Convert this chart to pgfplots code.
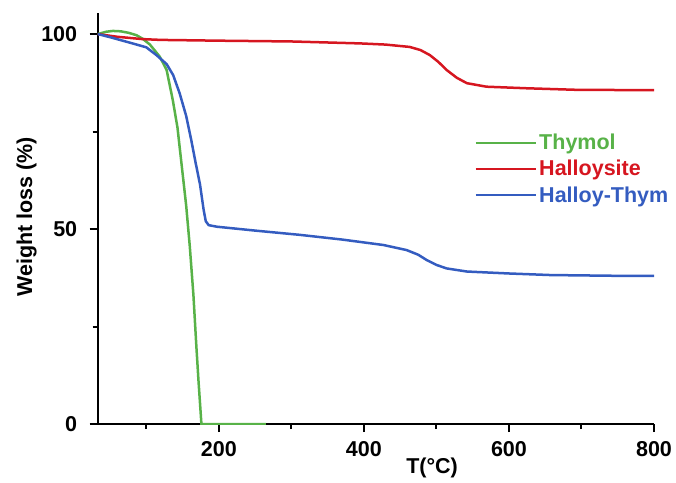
\documentclass[border=0pt]{standalone}
\usepackage{fontspec}
\setmainfont{Liberation Sans}
\usepackage{pgfplots}
\pgfplotsset{compat=1.18}
\definecolor{cgreen}{RGB}{88,178,72}
\definecolor{cred}{RGB}{214,22,32}
\definecolor{cblue}{RGB}{52,92,192}
\begin{document}
\begin{tikzpicture}
\useasboundingbox (-97.7pt,-58pt) rectangle (578.3pt,424pt);
\begin{axis}[
  anchor=south west, at={(0,0)},
  scale only axis,
  width=556.3pt, height=411pt,
  xmin=33, xmax=800, ymin=0, ymax=105.4,
  axis x line=bottom, axis y line=left,
  axis line style={-, line width=2.2pt, black},
  xtick={200,400,600,800}, ytick={0,50,100},
  minor xtick={100,300,500,700}, minor ytick={25,75},
  tick align=outside,
  major tick length=8pt, minor tick length=5pt,
  every tick/.style={black, line width=2pt},
  /pgf/number format/assume math mode=true,
  ticklabel style={font=\bfseries\fontsize{21.5}{24}\selectfont},
  xticklabel style={yshift=-6pt},
  yticklabel style={xshift=-9pt},
  xlabel={T(°C)}, ylabel={Weight loss (\%)},
  label style={font=\bfseries\fontsize{21.5}{24}\selectfont},
  xlabel style={at={(axis description cs:0.601,0)}, anchor=center, yshift=-44pt},
  ylabel style={at={(axis description cs:0,0.504)}, anchor=center, yshift=71pt},
  legend style={draw=none, fill=none, at={(axis description cs:0.672,0.715)}, anchor=north west,
    font=\bfseries\fontsize{21.5}{24}\selectfont, row sep=5pt,
    nodes={inner sep=2pt}},
  legend cell align=left,
  legend image code/.code={\draw[#1, line width=2.5pt] (0pt,0pt) -- (50pt,0pt); \path (0pt,0pt) -- (60pt,0pt);},
  every axis plot/.append style={line width=2.5pt, mark=none},
]
\addplot[cgreen] coordinates {
(33,100)(45,100.6)(54,100.8)(65,100.7)(76,100.3)(86.5,99.7)(95,98.8)(105,97.3)(118.6,94.2)(128,90.8)(136.6,83)(143,76)(149,66)(155,56)(160,45.5)(165,33)(169,20)(172,11)(176,0)(200,0)(265,0)};
\addlegendentry{\textcolor{cgreen}{Thymol}}
\addplot[cred] coordinates {
(33,100)(60,99.3)(95,98.7)(120,98.5)(200,98.3)(300,98.1)(395,97.6)(430,97.3)(463,96.7)(478,95.9)(491,94.6)(503,92.8)(514,90.8)(528,88.8)(542,87.4)(569,86.5)(624,86.1)(693,85.7)(805,85.6)};
\addlegendentry{\textcolor{cred}{Halloysite}}
\addplot[cblue] coordinates {
(33,100)(50,99.2)(81,97.6)(100,96.6)(114,94.6)(128,92.3)(137,89.5)(146,84.8)(155,79)(162,72.8)(168,67)(174,61.5)(179,55)(182,52)(186,51)(197,50.6)(250,49.6)(312,48.5)(370,47.3)(427,45.9)(459,44.6)(475,43.4)(487,42)(500,40.8)(514,39.9)(542,39.1)(600,38.6)(657,38.2)(750,38)(805,38)};
\addlegendentry{\textcolor{cblue}{Halloy-Thym}}
\end{axis}
\end{tikzpicture}
\end{document}
